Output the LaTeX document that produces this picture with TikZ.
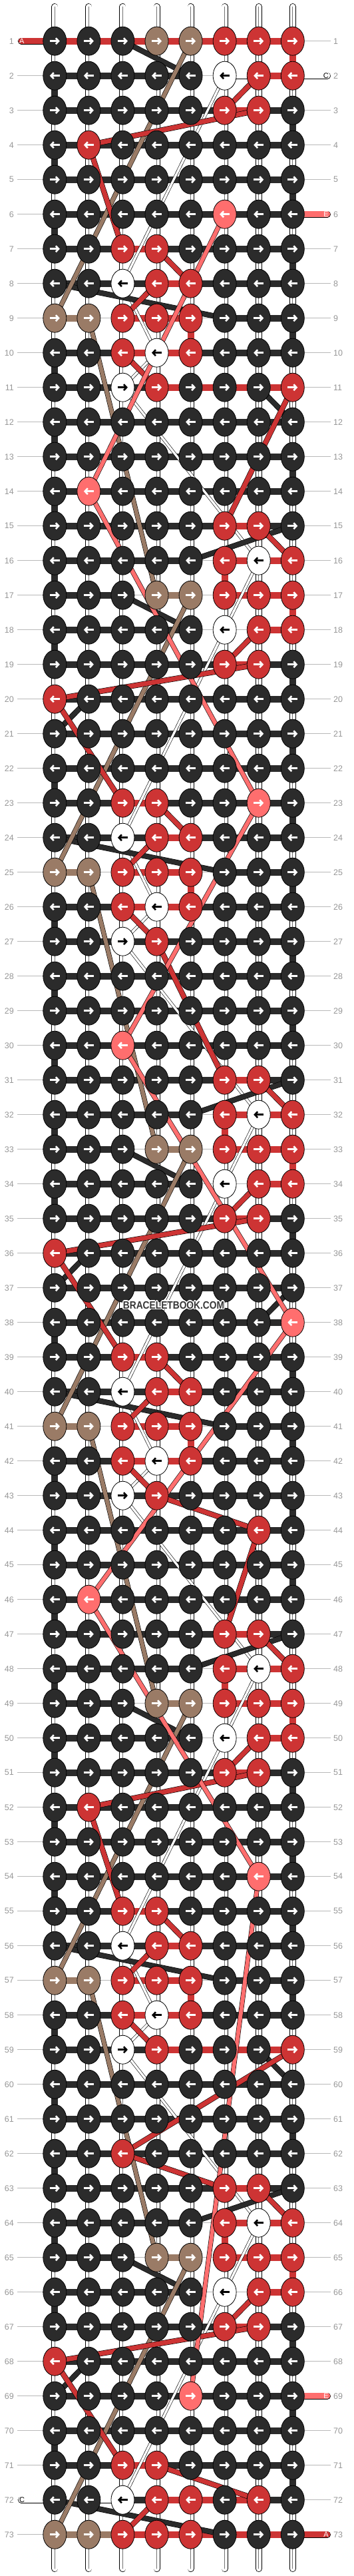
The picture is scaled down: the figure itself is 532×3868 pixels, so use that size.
\documentclass[tikz,border=0pt]{standalone}
\usepackage{fontspec}
\setmainfont{Liberation Sans}
\usetikzlibrary{arrows.meta,shapes.geometric}
\definecolor{kK}{RGB}{43,43,43}
\definecolor{kR}{RGB}{205,52,52}
\definecolor{kP}{RGB}{255,110,110}
\definecolor{kB}{RGB}{154,123,102}
\definecolor{kW}{RGB}{255,255,255}
\colorlet{aK}{white}
\colorlet{aR}{white}
\colorlet{aP}{white}
\colorlet{aB}{white}
\colorlet{aW}{black}
\definecolor{rowgray}{RGB}{185,185,185}
\definecolor{labgray}{RGB}{150,150,150}
\definecolor{wmgray}{RGB}{55,55,55}

\tikzset{
  knot/.style={ellipse, draw=black, line width=0.8pt, minimum width=35pt, minimum height=43pt, inner sep=0pt},
  knotarrow/.style={line width=2.6pt, -{Straight Barb[length=4.2pt,width=9pt]}},
  hbar/.style={line width=10pt},
  hbarwhite/.style={draw=black, line width=0.7pt, double=white, double distance=8.6pt},
  vbar/.style={line width=10pt},
  pipe/.style={line width=10pt, draw=black, line cap=round,
    postaction={draw=white, line width=8.4pt, line cap=round},
    postaction={draw=black!55, line width=0.7pt}},
  rowline/.style={draw=rowgray, line width=1pt},
  rowlabel/.style={text=labgray, font=\fontsize{12.5}{14}\selectfont, inner sep=0pt},
  thread/.style 2 args={draw=black, line width=0.6pt, double=#1, double distance=#2, line join=round},
  tab/.style={draw=black, line width=0.7pt, double=#1, double distance=8.6pt, line cap=round},
  tablabel/.style={font=\fontsize{11}{12}\selectfont, inner sep=0pt},
  watermark/.style={font=\fontsize{16}{16}\selectfont\bfseries, xscale=0.86, transform shape, inner sep=0pt}
}

% row / knot colours / bar colours (N = no bar)
\def\knotrows{%
1/{K,K,K,B,B,R,R,R}/{R,R,R,R,R,R,R},%
2/{K,K,K,K,K,W,R,R}/{K,K,K,K,N,W,R},%
3/{K,K,K,K,K,R,R,K}/{K,K,K,K,K,R,K},%
4/{K,R,K,K,K,K,K,K}/{K,K,K,K,K,K,K},%
5/{K,K,K,K,K,K,K,K}/{K,K,K,K,K,K,K},%
6/{K,K,K,K,K,P,K,K}/{K,K,K,K,K,K,K},%
7/{K,K,R,R,K,K,K,K}/{K,K,R,K,K,K,K},%
8/{K,K,W,R,R,K,K,K}/{K,K,K,R,K,K,K},%
9/{B,B,R,R,R,K,K,K}/{B,N,R,R,N,K,K},%
10/{K,K,R,W,R,K,K,K}/{K,K,R,R,K,K,K},%
11/{K,K,W,R,K,K,K,R}/{K,K,K,R,R,R,R},%
12/{K,K,K,K,K,K,K,K}/{K,K,K,K,K,K,K},%
13/{K,K,K,K,K,K,K,K}/{K,K,K,K,K,K,K},%
14/{K,P,K,K,K,K,K,K}/{K,K,K,K,K,K,K},%
15/{K,K,K,K,K,R,R,K}/{K,K,K,K,K,R,K},%
16/{K,K,K,K,K,R,W,R}/{K,K,K,K,N,R,R},%
17/{K,K,K,B,B,R,R,R}/{K,K,N,B,N,R,R},%
18/{K,K,K,K,K,W,R,R}/{K,K,K,K,N,N,R},%
19/{K,K,K,K,K,R,R,K}/{K,K,K,K,K,R,K},%
20/{R,K,K,K,K,K,K,K}/{K,K,K,K,K,K,K},%
21/{K,K,K,K,K,K,K,K}/{K,K,K,K,K,K,K},%
22/{K,K,K,K,K,K,K,K}/{K,K,K,K,K,K,K},%
23/{K,K,R,R,K,K,P,K}/{K,K,R,K,K,K,K},%
24/{K,K,W,R,R,K,K,K}/{K,K,K,R,K,K,K},%
25/{B,B,R,R,R,K,K,K}/{B,N,R,R,N,K,K},%
26/{K,K,R,W,R,K,K,K}/{K,K,R,R,K,K,K},%
27/{K,K,W,R,K,K,K,K}/{K,K,K,K,K,K,K},%
28/{K,K,K,K,K,K,K,K}/{K,K,K,K,K,K,K},%
29/{K,K,K,K,K,K,K,K}/{K,K,K,K,K,K,K},%
30/{K,K,P,K,K,K,K,K}/{K,K,K,K,K,K,K},%
31/{K,K,K,K,K,R,R,K}/{K,K,K,K,K,R,K},%
32/{K,K,K,K,K,R,W,R}/{K,K,K,K,N,R,R},%
33/{K,K,K,B,B,R,R,R}/{K,K,N,B,N,R,R},%
34/{K,K,K,K,K,W,R,R}/{K,K,K,K,N,N,R},%
35/{K,K,K,K,K,R,R,K}/{K,K,K,K,K,R,K},%
36/{R,K,K,K,K,K,K,K}/{K,K,K,K,K,K,K},%
37/{K,K,K,K,K,K,K,K}/{K,K,K,K,K,K,K},%
38/{K,K,K,K,K,K,K,P}/{K,K,K,K,K,K,K},%
39/{K,K,R,R,K,K,K,K}/{K,K,R,K,K,K,K},%
40/{K,K,W,R,R,K,K,K}/{K,K,K,R,K,K,K},%
41/{B,B,R,R,R,K,K,K}/{B,N,R,R,N,K,K},%
42/{K,K,R,W,R,K,K,K}/{K,K,R,R,K,K,K},%
43/{K,K,W,R,K,K,K,K}/{K,K,K,K,K,K,K},%
44/{K,K,K,K,K,K,R,K}/{K,K,K,K,K,K,K},%
45/{K,K,K,K,K,K,K,K}/{K,K,K,K,K,K,K},%
46/{K,P,K,K,K,K,K,K}/{K,K,K,K,K,K,K},%
47/{K,K,K,K,K,R,R,K}/{K,K,K,K,K,R,K},%
48/{K,K,K,K,K,R,W,R}/{K,K,K,K,N,R,R},%
49/{K,K,K,B,B,R,R,R}/{K,K,N,B,N,R,R},%
50/{K,K,K,K,K,W,R,R}/{K,K,K,K,N,N,R},%
51/{K,K,K,K,K,R,R,K}/{K,K,K,K,K,R,K},%
52/{K,R,K,K,K,K,K,K}/{K,K,K,K,K,K,K},%
53/{K,K,K,K,K,K,K,K}/{K,K,K,K,K,K,K},%
54/{K,K,K,K,K,K,P,K}/{K,K,K,K,K,K,K},%
55/{K,K,R,R,K,K,K,K}/{K,K,R,K,K,K,K},%
56/{K,K,W,R,R,K,K,K}/{K,K,K,R,K,K,K},%
57/{B,B,R,R,R,K,K,K}/{B,N,R,R,N,K,K},%
58/{K,K,R,W,R,K,K,K}/{K,K,R,R,K,K,K},%
59/{K,K,W,R,K,K,K,R}/{K,K,K,R,R,R,R},%
60/{K,K,K,K,K,K,K,K}/{K,K,K,K,K,K,K},%
61/{K,K,K,K,K,K,K,K}/{K,K,K,K,K,K,K},%
62/{K,K,R,K,K,K,K,K}/{K,K,K,K,K,K,K},%
63/{K,K,K,K,K,R,R,K}/{K,K,K,K,K,R,K},%
64/{K,K,K,K,K,R,W,R}/{K,K,K,K,N,R,R},%
65/{K,K,K,B,B,R,R,R}/{K,K,N,B,N,R,R},%
66/{K,K,K,K,K,W,R,R}/{K,K,K,K,N,N,R},%
67/{K,K,K,K,K,R,R,K}/{K,K,K,K,K,R,K},%
68/{R,K,K,K,K,K,K,K}/{K,K,K,K,K,K,K},%
69/{K,K,K,K,P,K,K,K}/{K,K,K,K,K,K,K},%
70/{K,K,K,K,K,K,K,K}/{K,K,K,K,K,K,K},%
71/{K,K,R,R,K,K,K,K}/{K,K,R,K,K,K,K},%
72/{K,K,W,R,R,K,R,K}/{W,W,K,R,R,R,K},%
73/{B,B,R,R,R,K,K,K}/{B,B,R,R,R,R,R}%
}

\begin{document}
\begin{tikzpicture}[x=1pt,y=-1pt]
\useasboundingbox (0,0) rectangle (532,3868);

% grid points, row lines and numbers
\foreach \r in {1,...,73}{
  \pgfmathsetmacro\yy{61.7+(\r-1)*52}
  \foreach \col in {1,...,8}
    \coordinate (p-\r-\col) at ({82.3+(\col-1)*51.07},\yy);
  \coordinate (rl-\r) at (26,\yy);
  \coordinate (rr-\r) at (497,\yy);
  \coordinate (tl-\r) at (32,\yy);
  \coordinate (tr-\r) at (492,\yy);
  \draw[rowline] (rl-\r) -- (rr-\r);
  \node[rowlabel, anchor=east] (lab-l-\r) at (21,\yy) {\r};
  \node[rowlabel, anchor=west] (lab-r-\r) at (501,\yy) {\r};
}

% strings
\foreach \col in {1,...,8}{
  \coordinate (top-\col) at ({82.3+(\col-1)*51.07},10);
  \coordinate (bot-\col) at ({82.3+(\col-1)*51.07},3857);
  \draw[pipe] (top-\col) -- (bot-\col);
}

% turns at the edges
\foreach \r [evaluate=\r as \s using {int(\r+1)}] in {2,4,6,10,12,14,16,18,22,26,28,30,32,34,38,42,44,46,48,50,52,54,58,60,62,64,66,70}
  \draw[vbar, draw=kK] (p-\r-1) -- (p-\s-1);
\foreach \r [evaluate=\r as \s using {int(\r+1)}] in {3,5,7,9,13,19,21,23,25,27,29,35,39,41,43,45,51,53,55,57,61,67,69,71}
  \draw[vbar, draw=kK] (p-\r-8) -- (p-\s-8);
\foreach \r [evaluate=\r as \s using {int(\r+1)}] in {1,17,33,49,65}
  \draw[vbar, draw=kR] (p-\r-8) -- (p-\s-8);
\foreach \r [evaluate=\r as \s using {int(\r+1)}] in {9,25,41,57}
  \draw[vbar, draw=kR] (p-\r-5) -- (p-\s-5);
\foreach \r [evaluate=\r as \s using {int(\r+1)}] in {16,32,48,64}
  \draw[vbar, draw=kR] (p-\r-6) -- (p-\s-6);

% bars between knots
\foreach \r/\knots/\bars in \knotrows {
  \foreach \bn [count=\i] in \bars {
    \pgfmathtruncatemacro\j{\i+1}
    \if\bn N\else
      \if\bn W\draw[hbarwhite] (p-\r-\i) -- (p-\r-\j);
      \else\draw[hbar, draw=k\bn] (p-\r-\i) -- (p-\r-\j);\fi
    \fi
  }
}

% end tabs
\draw[tab=kR] (tl-1) -- (p-1-1);
\draw[tab=white] (tr-2) -- (p-2-8);
\draw[tab=kP] (tr-6) -- (p-6-8);
\draw[tab=kP] (tr-69) -- (p-69-8);
\draw[tab=white] (tl-72) -- (p-72-1);
\draw[tab=kR] (tr-73) -- (p-73-8);
\node[tablabel, text=white, anchor=west] (end-a1) at (29,61.7) {A};
\node[tablabel, text=black, anchor=east] (end-c2) at (494,113.7) {C};
\node[tablabel, text=white, anchor=east] (end-e6) at (494,321.7) {E};
\node[tablabel, text=white, anchor=east] (end-e69) at (494,3597.7) {E};
\node[tablabel, text=black, anchor=west] (end-c72) at (29,3753.7) {C};
\node[tablabel, text=white, anchor=east] (end-a73) at (494,3805.7) {A};

% white strand
\draw[thread={white}{3.4pt}] (p-2-6) -- (p-8-3) -- (p-10-4) -- (p-11-3) -- (p-16-7) -- (p-18-6)
  -- (p-24-3) -- (p-26-4) -- (p-27-3) -- (p-32-7) -- (p-34-6) -- (p-40-3) -- (p-42-4) -- (p-43-3)
  -- (p-48-7) -- (p-50-6) -- (p-56-3) -- (p-58-4) -- (p-59-3) -- (p-64-7) -- (p-66-6) -- (p-72-3);

% dark strands
\foreach \t [evaluate=\t as \u using {int(\t+1)}] in {1,17,33,49,65}
  \draw[thread={kK}{7pt}] (p-\t-3) -- (p-\u-5);
\foreach \t [evaluate=\t as \u using {int(\t+1)}] in {8,24,40,56,72}
  \draw[thread={kK}{7pt}] (p-\t-1) -- (p-\u-6);
\foreach \t [evaluate=\t as \u using {int(\t+1)}] in {15,31,47,63}
  \draw[thread={kK}{7pt}] (p-\t-8) -- (p-\u-5);
\draw[thread={kK}{7pt}] (p-11-7) -- (p-12-8);
\draw[thread={kK}{7pt}] (p-37-8) -- (p-38-7);
\draw[thread={kK}{7pt}] (p-59-7) -- (p-60-8);
\draw[thread={kK}{7pt}] (p-20-2) -- (p-21-1);
\draw[thread={kK}{7pt}] (p-36-2) -- (p-37-1);
\draw[thread={kK}{7pt}] (p-68-2) -- (p-69-1);

% brown strands
\foreach \t [evaluate=\t as \u using {int(\t+8)}] in {1,17,33,49,65}
  \draw[thread={kB}{6pt}] (p-\t-5) -- (p-\u-1);
\foreach \t [evaluate=\t as \u using {int(\t+8)}] in {9,25,41,57}
  \draw[thread={kB}{6pt}] (p-\t-2) -- (p-\u-4);

% red strands inside the motifs
\foreach \t [evaluate=\t as \u using {int(\t+1)}, evaluate=\t as \v using {int(\t+2)},
             evaluate=\t as \w using {int(\t+3)}, evaluate=\t as \z using {int(\t+4)}] in {7,23,39,55}{
  \draw[thread={kR}{7pt}] (p-\t-4) -- (p-\u-5);
  \draw[thread={kR}{7pt}] (p-\u-4) -- (p-\v-3);
  \draw[thread={kR}{7pt}] (p-\w-3) -- (p-\z-4);
}
\draw[thread={kR}{7pt}] (p-72-4) -- (p-73-3);
\foreach \s [evaluate=\s as \u using {int(\s+1)}, evaluate=\s as \w using {int(\s+3)},
             evaluate=\s as \z using {int(\s+4)}] in {15,31,47,63}{
  \draw[thread={kR}{7pt}] (p-\s-7) -- (p-\u-8);
  \draw[thread={kR}{7pt}] (p-\w-7) -- (p-\z-6);
}
\draw[thread={kR}{7pt}] (p-2-7) -- (p-3-6);

% red strand between motifs
\draw[thread={kR}{7pt}] (p-3-7) -- (p-4-2) -- (p-7-3);
\draw[thread={kR}{7pt}] (p-11-8) -- (p-15-6);
\draw[thread={kR}{7pt}] (p-19-7) -- (p-20-1) -- (p-23-3);
\draw[thread={kR}{7pt}] (p-27-4) -- (p-31-6);
\draw[thread={kR}{7pt}] (p-35-7) -- (p-36-1) -- (p-39-3);
\draw[thread={kR}{7pt}] (p-43-4) -- (p-44-7) -- (p-47-6);
\draw[thread={kR}{7pt}] (p-51-7) -- (p-52-2) -- (p-55-3);
\draw[thread={kR}{7pt}] (p-59-8) -- (p-62-3) -- (p-63-6);
\draw[thread={kR}{7pt}] (p-67-7) -- (p-68-1) -- (p-71-3);
\draw[thread={kR}{7pt}] (p-71-4) -- (p-72-7);

% pink strand
\draw[thread={kP}{6pt}] (p-6-6) -- (p-14-2) -- (p-23-7) -- (p-30-3) -- (p-38-8)
  -- (p-46-2) -- (p-54-7) -- (p-69-5);

% knots
\foreach \r/\knots/\bars in \knotrows {
  \foreach \kn [count=\i] in \knots {
    \node[knot, fill=k\kn] (k-\r-\i) at (p-\r-\i) {};
    \ifodd\r\relax
      \draw[knotarrow, draw=a\kn] (k-\r-\i.center) ++(-7.5,0) -- ++(15,0);
    \else
      \draw[knotarrow, draw=a\kn] (k-\r-\i.center) ++(7.5,0) -- ++(-15,0);
    \fi
  }
}

% site mark
\foreach \dx/\dy [count=\h] in {-1/-1,1/1,-1/1,1/-1,0/1.5,0/-1.5,1.5/0,-1.5/0}
  \node[watermark, text=white] (halo-\h) at (261+\dx,1959.5+\dy) {BRACELETBOOK.COM};
\node[watermark, text=wmgray] (mark) at (261,1959.5) {BRACELETBOOK.COM};
\end{tikzpicture}
\end{document}
